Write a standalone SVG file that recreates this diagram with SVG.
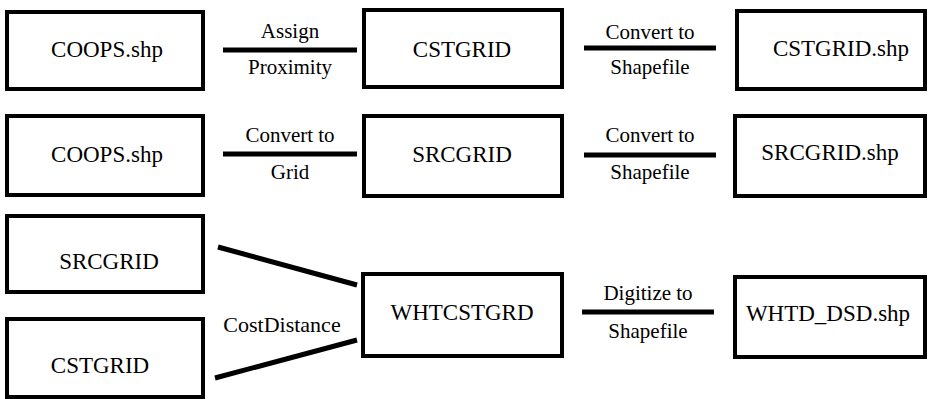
<svg xmlns="http://www.w3.org/2000/svg" width="928" height="399" viewBox="0 0 928 399">
  <rect width="928" height="399" fill="#fff"/>

  <!-- connectors -->
  <g id="connectors" stroke="#000" stroke-width="5" fill="none">
    <line x1="223" y1="50" x2="357" y2="50"/>
    <line x1="584" y1="48" x2="716" y2="48"/>
    <line x1="223" y1="154" x2="357" y2="154"/>
    <line x1="584" y1="155" x2="716" y2="155"/>
    <line x1="218" y1="247" x2="357" y2="285"/>
    <line x1="215" y1="378" x2="357" y2="340"/>
    <line x1="582" y1="312" x2="714" y2="312"/>
  </g>

  <!-- connector labels -->
  <g id="connector-labels" fill="#000" style="font-family:'Liberation Serif','Times New Roman',serif">
    <text style="font-family:'Liberation Serif','Times New Roman',serif;font-size:21px;text-anchor:middle" x="290" y="38">Assign</text>
    <text style="font-family:'Liberation Serif','Times New Roman',serif;font-size:21px;text-anchor:middle" x="290" y="74">Proximity</text>
    <text style="font-family:'Liberation Serif','Times New Roman',serif;font-size:21px;text-anchor:middle" x="650" y="39">Convert to</text>
    <text style="font-family:'Liberation Serif','Times New Roman',serif;font-size:21px;text-anchor:middle" x="650" y="74">Shapefile</text>
    <text style="font-family:'Liberation Serif','Times New Roman',serif;font-size:21px;text-anchor:middle" x="290" y="142">Convert to</text>
    <text style="font-family:'Liberation Serif','Times New Roman',serif;font-size:21px;text-anchor:middle" x="290" y="179">Grid</text>
    <text style="font-family:'Liberation Serif','Times New Roman',serif;font-size:21px;text-anchor:middle" x="650" y="142">Convert to</text>
    <text style="font-family:'Liberation Serif','Times New Roman',serif;font-size:21px;text-anchor:middle" x="650" y="179">Shapefile</text>
    <text style="font-family:'Liberation Serif','Times New Roman',serif;font-size:22px;text-anchor:middle" x="282" y="332">CostDistance</text>
    <text style="font-family:'Liberation Serif','Times New Roman',serif;font-size:21px;text-anchor:middle" x="648" y="300">Digitize to</text>
    <text style="font-family:'Liberation Serif','Times New Roman',serif;font-size:21px;text-anchor:middle" x="648" y="338">Shapefile</text>
  </g>

  <g id="nodes" fill="#000">
    <!-- row 1 -->
    <g id="coops-shp-1">
      <rect x="7" y="12" width="196" height="77" fill="#fff" stroke="#000" stroke-width="4"/>
      <text style="font-family:'Liberation Serif','Times New Roman',serif;font-size:23px;text-anchor:middle" x="107" y="57">COOPS.shp</text>
    </g>
    <g id="cstgrid-1">
      <rect x="364" y="10" width="198" height="77" fill="#fff" stroke="#000" stroke-width="4"/>
      <text style="font-family:'Liberation Serif','Times New Roman',serif;font-size:23px;text-anchor:middle" x="462" y="57">CSTGRID</text>
    </g>
    <g id="cstgrid-shp">
      <rect x="737" y="11" width="188" height="78" fill="#fff" stroke="#000" stroke-width="4"/>
      <text style="font-family:'Liberation Serif','Times New Roman',serif;font-size:23px;text-anchor:middle" x="841" y="56">CSTGRID.shp</text>
    </g>

    <!-- row 2 -->
    <g id="coops-shp-2">
      <rect x="7" y="116" width="196" height="79" fill="#fff" stroke="#000" stroke-width="4"/>
      <text style="font-family:'Liberation Serif','Times New Roman',serif;font-size:23px;text-anchor:middle" x="107" y="162">COOPS.shp</text>
    </g>
    <g id="srcgrid-1">
      <rect x="364" y="116" width="198" height="80" fill="#fff" stroke="#000" stroke-width="4"/>
      <text style="font-family:'Liberation Serif','Times New Roman',serif;font-size:23px;text-anchor:middle" x="462" y="162">SRCGRID</text>
    </g>
    <g id="srcgrid-shp">
      <rect x="735" y="116" width="190" height="80" fill="#fff" stroke="#000" stroke-width="4"/>
      <text style="font-family:'Liberation Serif','Times New Roman',serif;font-size:23px;text-anchor:middle" x="830" y="160">SRCGRID.shp</text>
    </g>

    <!-- row 3 -->
    <g id="srcgrid-2">
      <rect x="7" y="216" width="196" height="76" fill="#fff" stroke="#000" stroke-width="4"/>
      <text style="font-family:'Liberation Serif','Times New Roman',serif;font-size:23px;text-anchor:middle" x="109" y="269">SRCGRID</text>
    </g>
    <g id="cstgrid-2">
      <rect x="7" y="319" width="196" height="78" fill="#fff" stroke="#000" stroke-width="4"/>
      <text style="font-family:'Liberation Serif','Times New Roman',serif;font-size:23px;text-anchor:middle" x="100" y="373">CSTGRID</text>
    </g>
    <g id="whtcstgrd">
      <rect x="363" y="274" width="199" height="82" fill="#fff" stroke="#000" stroke-width="4"/>
      <text style="font-family:'Liberation Serif','Times New Roman',serif;font-size:23px;text-anchor:middle" x="462" y="320">WHTCSTGRD</text>
    </g>
    <g id="whtd-dsd-shp">
      <rect x="735" y="277" width="190" height="80" fill="#fff" stroke="#000" stroke-width="4"/>
      <text style="font-family:'Liberation Serif','Times New Roman',serif;font-size:23px;text-anchor:middle" x="828" y="321">WHTD_DSD.shp</text>
    </g>
  </g>
</svg>
